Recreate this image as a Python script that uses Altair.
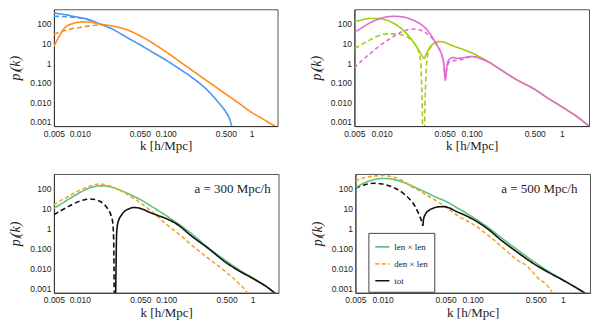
import altair as alt
import pandas as pd

# ---------------- data ----------------
# Panel 1 (top-left)
p1_blue_s_k = [0.005, 0.006, 0.007, 0.008, 0.01, 0.012, 0.0145, 0.0163, 0.02, 0.025, 0.03, 0.04, 0.05, 0.07, 0.1, 0.15, 0.2, 0.3, 0.4, 0.5, 0.55, 0.6]
p1_blue_s_p = [365, 320, 290, 255, 210, 180, 135, 109, 76, 50, 31, 15, 8.7, 3.6, 1.43, 0.45, 0.19, 0.044, 0.011, 0.0032, 0.0015, 0.0004]
p1_blue_d_k = [0.005, 0.006, 0.007, 0.008, 0.01, 0.012, 0.0135]
p1_blue_d_p = [245, 240, 232, 222, 200, 172, 150]
p1_orng_s_k = [0.005, 0.0052, 0.0055, 0.006, 0.0065, 0.007, 0.008, 0.009, 0.01, 0.012, 0.014, 0.0163, 0.02, 0.0256, 0.035, 0.05, 0.07, 0.1, 0.15, 0.2, 0.3, 0.45, 0.7, 1.0, 1.4, 1.7, 2.0]
p1_orng_s_p = [7, 10, 16, 32, 55, 75, 100, 115, 122, 126, 118, 102, 88, 74, 51, 25, 10.7, 3.8, 1.08, 0.44, 0.125, 0.036, 0.0092, 0.003, 0.00125, 0.00075, 0.0005]
p1_orng_d_k = [0.005, 0.006, 0.007, 0.008, 0.01, 0.012, 0.014, 0.017, 0.02]
p1_orng_d_p = [29, 40, 48, 56, 66, 75, 82, 88, 88]

# Panel 2 (top-right)
p2_grn_s_k = [0.005, 0.006, 0.0072, 0.0085, 0.01, 0.012, 0.014, 0.017, 0.02, 0.0244, 0.027, 0.0288, 0.0297, 0.031, 0.034, 0.038, 0.043, 0.048, 0.06, 0.08, 0.1, 0.13, 0.16, 0.2, 0.3, 0.5, 0.7, 1.0, 1.5, 2.0]
p2_grn_s_p = [126, 160, 187, 190, 180, 145, 100, 52, 24, 7, 3.2, 2.0, 1.7, 2.6, 6, 10, 12.5, 12, 8, 5, 3.3, 1.8, 1.05, 0.52, 0.16, 0.045, 0.016, 0.0058, 0.0017, 0.0006]
p2_grn_d_k = [0.005, 0.006, 0.0072, 0.0085, 0.01, 0.012, 0.014, 0.017, 0.02, 0.0232, 0.0255, 0.027, 0.0282, 0.0292, 0.0304, 0.0316, 0.033, 0.036, 0.04, 0.043]
p2_grn_d_p = [5.5, 9, 14, 21, 28, 31, 31, 27, 19, 10, 4.5, 1.5, 0.01, 0.000001, 0.01, 1.0, 3.5, 7.5, 11, 12.5]
p2_mag_s_k = [0.005, 0.006, 0.0072, 0.0085, 0.01, 0.012, 0.014, 0.017, 0.02, 0.024, 0.028, 0.032, 0.037, 0.042, 0.046, 0.049, 0.051, 0.053, 0.056, 0.062, 0.07, 0.08, 0.09, 0.1, 0.11, 0.13, 0.16, 0.2, 0.3, 0.5, 0.7, 1.0, 1.5, 2.0]
p2_mag_s_p = [38, 62, 105, 150, 200, 235, 245, 230, 190, 135, 88, 50, 19, 7, 3, 0.9, 0.13, 0.7, 1.5, 1.9, 1.75, 1.85, 2.05, 2.15, 2.05, 1.6, 1.0, 0.53, 0.16, 0.045, 0.016, 0.0058, 0.0017, 0.0006]
p2_mag_d_k = [0.005, 0.006, 0.0072, 0.0085, 0.01, 0.012, 0.014, 0.017, 0.02, 0.023, 0.026, 0.03, 0.034, 0.038, 0.042, 0.046, 0.049, 0.051, 0.053, 0.056, 0.062, 0.07, 0.08, 0.1, 0.13]
p2_mag_d_p = [0.57, 1.3, 2.6, 5, 9, 16, 25, 40, 52, 55, 50, 38, 25, 15, 7, 3, 0.9, 0.2, 0.5, 1.1, 1.3, 1.4, 1.6, 2.1, 1.6]

# Panel 3 (bottom-left, a = 300 Mpc/h)
p3_grn_k = [0.005, 0.006, 0.007, 0.008, 0.01, 0.012, 0.015, 0.018, 0.02, 0.025, 0.03, 0.04, 0.05, 0.07, 0.1, 0.15, 0.2, 0.3, 0.5, 0.7, 1.0, 1.5, 2.0]
p3_grn_p = [10.5, 17, 26, 37, 65, 98, 132, 142, 138, 112, 82, 47, 29, 12, 4.5, 1.35, 0.52, 0.12, 0.023, 0.0085, 0.0034, 0.0011, 0.0004]
p3_org_k = [0.005, 0.006, 0.007, 0.008, 0.01, 0.012, 0.015, 0.017, 0.02, 0.024, 0.03, 0.04, 0.05, 0.07, 0.1, 0.15, 0.2, 0.3, 0.5, 0.7, 0.87, 0.95]
p3_org_p = [16, 26, 37, 52, 85, 120, 165, 175, 160, 125, 78, 38, 20, 6.5, 1.7, 0.42, 0.14, 0.035, 0.0062, 0.0017, 0.0006, 0.0003]
p3_totd_k = [0.005, 0.006, 0.007, 0.008, 0.01, 0.012, 0.013, 0.015, 0.017, 0.019, 0.021, 0.023, 0.024, 0.0246, 0.0252]
p3_totd_p = [5, 8, 11.5, 16, 24, 30, 31, 29, 24, 17, 10, 4.5, 2, 0.3, 0.000001]
p3_tot_k = [0.0256, 0.0262, 0.0266, 0.027, 0.028, 0.03, 0.033, 0.037, 0.042, 0.048, 0.055, 0.065, 0.08, 0.1, 0.13, 0.2, 0.3, 0.5, 0.7, 1.0, 1.5, 2.0]
p3_tot_p = [0.000001, 0.01, 0.5, 1.2, 2.5, 4.5, 7.5, 10, 11.5, 11, 9, 6.5, 4.6, 3.2, 1.8, 0.4, 0.11, 0.019, 0.0075, 0.0032, 0.0011, 0.0004]

# Panel 4 (bottom-right, a = 500 Mpc/h)
p4_grn_k = [0.005, 0.006, 0.007, 0.008, 0.01, 0.012, 0.014, 0.017, 0.02, 0.025, 0.03, 0.04, 0.05, 0.07, 0.1, 0.15, 0.2, 0.3, 0.5, 0.7, 1.0, 1.5, 2.0]
p4_grn_p = [113, 180, 245, 290, 335, 320, 280, 215, 158, 100, 68, 37, 24, 10, 3.8, 1.1, 0.4, 0.1, 0.019, 0.007, 0.0027, 0.0009, 0.0004]
p4_org_k = [0.005, 0.006, 0.007, 0.008, 0.01, 0.012, 0.014, 0.017, 0.02, 0.025, 0.03, 0.04, 0.05, 0.07, 0.1, 0.15, 0.2, 0.3, 0.4, 0.5, 0.55, 0.6, 0.65, 0.7, 0.76, 0.8]
p4_org_p = [250, 340, 400, 440, 470, 430, 360, 250, 150, 85, 52, 24, 12.5, 4.2, 1.7, 0.45, 0.15, 0.03, 0.013, 0.0045, 0.0028, 0.0022, 0.0016, 0.0011, 0.0006, 0.0003]
p4_totd_k = [0.005, 0.006, 0.007, 0.008, 0.009, 0.01, 0.012, 0.014, 0.017, 0.02, 0.023, 0.025, 0.027, 0.028]
p4_totd_p = [110, 150, 180, 190, 188, 175, 140, 105, 60, 30, 13, 6, 2.5, 1.4]
p4_tot_k = [0.028, 0.0285, 0.03, 0.033, 0.037, 0.042, 0.048, 0.055, 0.065, 0.08, 0.1, 0.15, 0.2, 0.3, 0.5, 0.7, 1.0, 1.5, 2.0]
p4_tot_p = [1.4, 3, 5.5, 8.5, 11, 12.5, 12.8, 11, 7.5, 5, 3.0, 0.9, 0.3, 0.075, 0.015, 0.0062, 0.0026, 0.0009, 0.0004]

annot_text = ["a = 300 Mpc/h", "a = 500 Mpc/h"]
annot_k = [1.62, 1.45]
annot_p = [100, 100]

legend_names = ["len \u00d7 len", "den \u00d7 len", "tot"]

X_TICKS = [0.005, 0.01, 0.05, 0.1, 0.5, 1]
Y_TICKS = [0.001, 0.01, 0.1, 1, 10, 100]
K_DOMAIN = [0.005, 2]
P_DOMAIN = [0.0006, 560]

SERIF = "Liberation Serif"
SANS = "Liberation Sans"


def frame(series, field):
    rows = []
    for name, ks, ps in series:
        for k, p in zip(ks, ps):
            rows.append({"k": k, "p": p, field: name})
    return pd.DataFrame(rows)


def x_enc():
    return alt.X(
        "k:Q",
        scale=alt.Scale(type="log", domain=K_DOMAIN, nice=False),
        axis=alt.Axis(
            values=X_TICKS,
            labelExpr="datum.value >= 1 ? format(datum.value, 'd') : format(datum.value, '.3f')",
            title="k  [h/Mpc]",
            titleFont=SERIF, titleFontSize=13, titleFontWeight="normal", titleColor="#222",
            labelFont=SANS, labelFontSize=8.5, labelColor="#222",
            labelPadding=3, titlePadding=2, ticks=False, grid=False,
            labelFlush=False, domainColor="#333", labelOverlap=False,
        ),
    )


def y_enc():
    return alt.Y(
        "p:Q",
        scale=alt.Scale(type="log", domain=P_DOMAIN, nice=False),
        axis=alt.Axis(
            values=Y_TICKS,
            labelExpr="datum.value >= 1 ? format(datum.value, 'd') : format(datum.value, '.3f')",
            title="p\u2097(k)",
            titleFont=SERIF, titleFontSize=14, titleFontStyle="italic", titleFontWeight="normal", titleColor="#222",
            labelFont=SANS, labelFontSize=8.5, labelColor="#222",
            labelPadding=3, titlePadding=4, ticks=False, grid=False,
            labelFlush=False, domainColor="#333", minExtent=27, maxExtent=27,
            labelOverlap=False,
        ),
    )


def lines(df, field, domain, colors, dashes, legend=None):
    return alt.Chart(df).mark_line(clip=True, interpolate="monotone", strokeWidth=1.6).encode(
        x=x_enc(),
        y=y_enc(),
        color=alt.Color(f"{field}:N", scale=alt.Scale(domain=domain, range=colors), legend=legend),
        strokeDash=alt.StrokeDash(f"{field}:N", scale=alt.Scale(domain=domain, range=dashes), legend=legend),
        order="k:Q",
    )


def annot(i):
    df = pd.DataFrame({"k": [annot_k[i]], "p": [annot_p[i]], "t": [annot_text[i]]})
    return alt.Chart(df).mark_text(align="right", baseline="middle", font=SERIF, fontSize=13, color="#222").encode(
        x=alt.X("k:Q", scale=alt.Scale(type="log", domain=K_DOMAIN, nice=False)),
        y=alt.Y("p:Q", scale=alt.Scale(type="log", domain=P_DOMAIN, nice=False)),
        text="t:N",
    )


BLUE = "#4a97ee"
ORANGE = "#ff8c1a"
YGREEN = "#a6cc12"
MAGENTA = "#e26ad2"
GREEN = "#5ec47c"
LORANGE = "#f7a52c"
BLACK = "#111111"

# Panel 1
d1 = frame([
    ("b_s", p1_blue_s_k, p1_blue_s_p),
    ("b_d", p1_blue_d_k, p1_blue_d_p),
    ("o_s", p1_orng_s_k, p1_orng_s_p),
    ("o_d", p1_orng_d_k, p1_orng_d_p),
], "s1")
c1 = lines(d1, "s1", ["b_s", "b_d", "o_s", "o_d"], [BLUE, BLUE, ORANGE, ORANGE],
           [[1, 0], [5, 3], [1, 0], [5, 3]]).properties(width=224, height=117)

# Panel 2
d2 = frame([
    ("g_s", p2_grn_s_k, p2_grn_s_p),
    ("g_d", p2_grn_d_k, p2_grn_d_p),
    ("m_s", p2_mag_s_k, p2_mag_s_p),
    ("m_d", p2_mag_d_k, p2_mag_d_p),
], "s2")
c2 = lines(d2, "s2", ["g_s", "g_d", "m_s", "m_d"], [YGREEN, YGREEN, MAGENTA, MAGENTA],
           [[1, 0], [5, 3], [1, 0], [4, 3]]).properties(width=235, height=117)

# Panel 3
d3 = frame([
    ("grn", p3_grn_k, p3_grn_p),
    ("org", p3_org_k, p3_org_p),
    ("totd", p3_totd_k, p3_totd_p),
    ("tot", p3_tot_k, p3_tot_p),
], "s3")
c3 = alt.layer(
    lines(d3, "s3", ["grn", "org", "totd", "tot"], [GREEN, LORANGE, BLACK, BLACK],
          [[1, 0], [4, 2.5], [5, 3], [1, 0]]),
    annot(0),
).properties(width=225, height=119)

# Panel 4
d4 = frame([
    (legend_names[0], p4_grn_k, p4_grn_p),
    (legend_names[1], p4_org_k, p4_org_p),
    (legend_names[2], p4_tot_k, p4_tot_p),
], "s4")
d4d = frame([("totd", p4_totd_k, p4_totd_p)], "s4d")
leg = alt.Legend(
    title=None, orient="none", legendX=13, legendY=59,
    fillColor="white", strokeColor="#444", padding=6, cornerRadius=0,
    symbolType="stroke", symbolSize=200, symbolStrokeWidth=1.6,
    labelFont=SERIF, labelFontSize=9, labelColor="#222", rowPadding=4, labelOffset=4,
)
c4 = alt.layer(
    alt.Chart(d4d).mark_line(clip=True, interpolate="monotone", strokeWidth=1.6, color=BLACK, strokeDash=[5, 3]).encode(
        x=x_enc(), y=y_enc(), order="k:Q"),
    lines(d4, "s4", legend_names, [GREEN, LORANGE, BLACK], [[1, 0], [4, 2.5], [1, 0]], legend=leg),
    annot(1),
).properties(width=235, height=119)

top = alt.hconcat(c1, c2, spacing=30).resolve_scale(color="independent", strokeDash="independent")
bottom = alt.hconcat(c3, c4, spacing=30).resolve_scale(color="independent", strokeDash="independent")
chart = (
    alt.vconcat(top, bottom, spacing=20)
    .resolve_scale(color="independent", strokeDash="independent")
    .resolve_legend(color="independent", strokeDash="independent")
    .properties(padding=0, background="white")
    .configure_view(stroke="#555", strokeWidth=1)
)

chart.save("out.html", embed_options={"renderer": "svg", "actions": False})
